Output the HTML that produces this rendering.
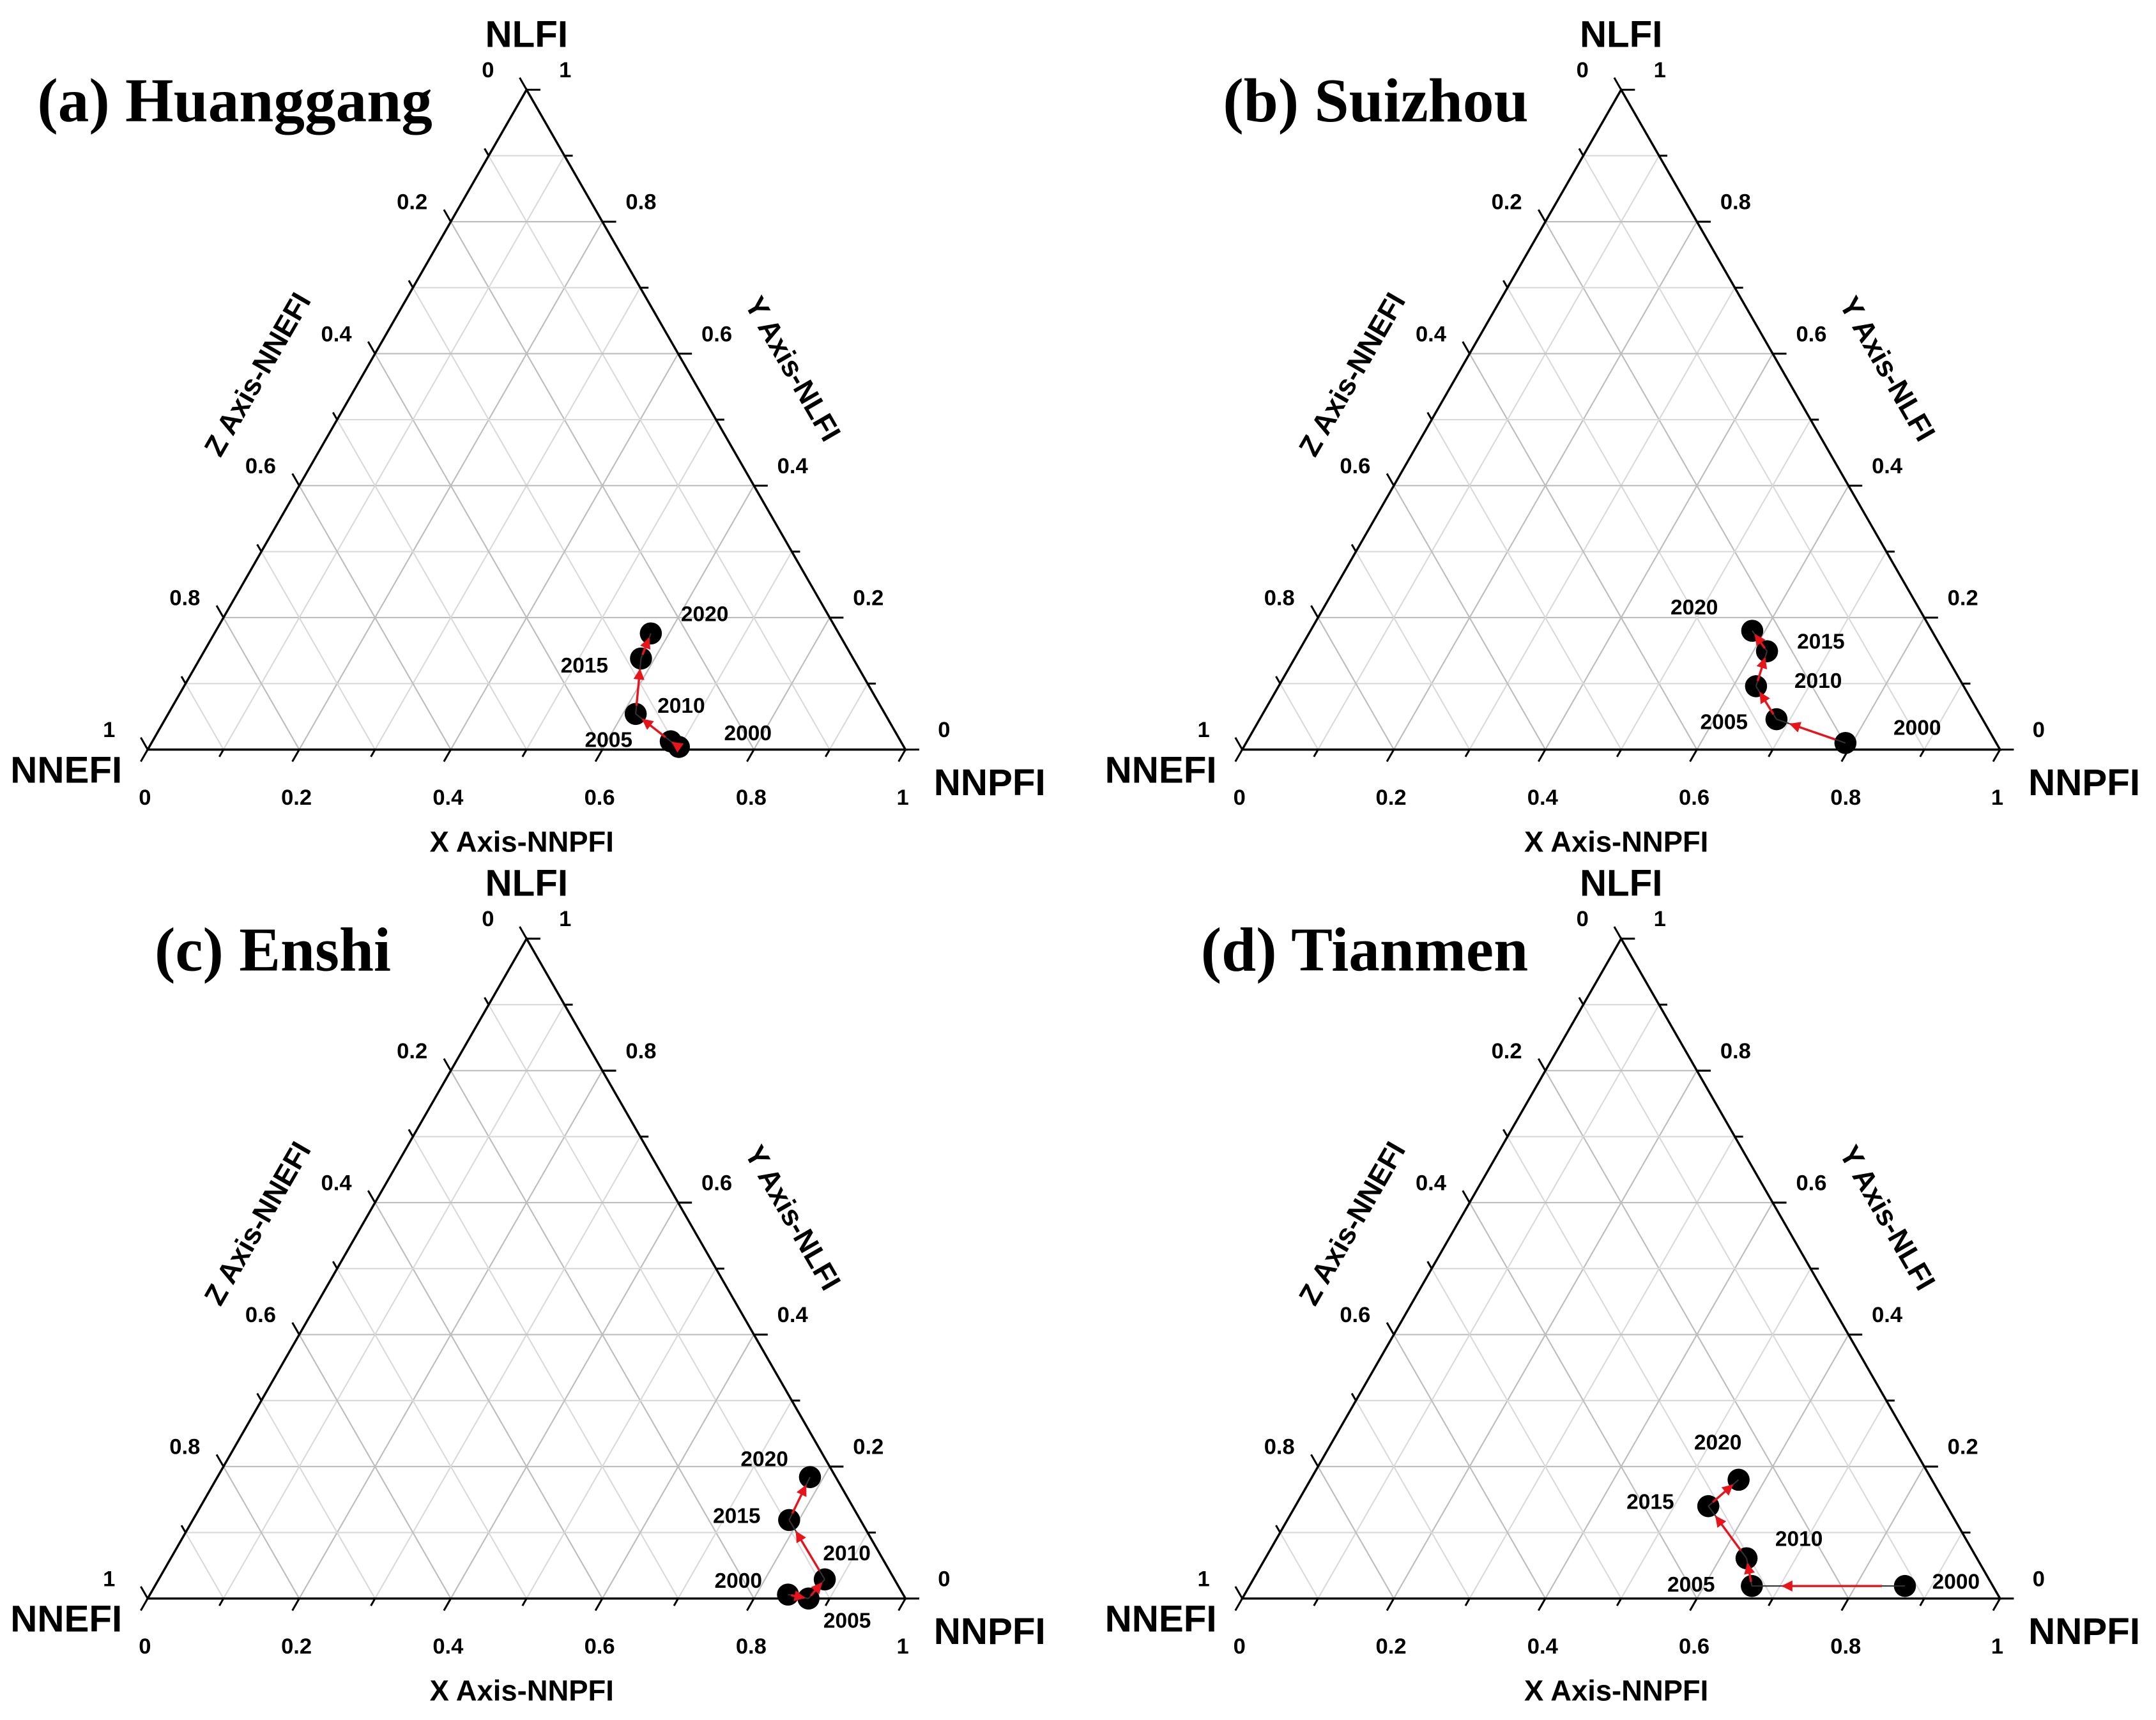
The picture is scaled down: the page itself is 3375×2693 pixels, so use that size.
<!DOCTYPE html>
<html><head><meta charset="utf-8"><style>
html,body{margin:0;padding:0;background:#fff;}
svg{display:block;}
text{font-family:"Liberation Sans",sans-serif;font-weight:bold;fill:#000;}
</style></head><body>
<svg id="chart" width="3375" height="2693" viewBox="0 0 1562 1246" preserveAspectRatio="none" xmlns="http://www.w3.org/2000/svg">
<defs><marker id="arr" viewBox="0 0 10 10" refX="9" refY="5" markerWidth="5" markerHeight="5" orient="auto"><path d="M0,0 L10,5 L0,10 z" fill="#e8141b"/></marker></defs>
</svg>
<script>
const panelTitles = ["(a) Huanggang","(b) Suizhou","(c) Enshi","(d) Tianmen"];
const years = ["2000","2005","2010","2015","2020"];
const nnpfiA = [0.699,0.684,0.617,0.582,0.576];
const nlfiA  = [0.004,0.0125,0.054,0.138,0.176];
const nnpfiB = [0.791,0.682,0.630,0.618,0.583];
const nlfiB  = [0.010,0.046,0.096,0.149,0.180];
const nnpfiC = [0.842,0.872,0.879,0.787,0.782];
const nlfiC  = [0.006,0.000,0.029,0.119,0.184];
const nnpfiD = [0.865,0.663,0.635,0.545,0.565];
const nlfiD  = [0.019,0.019,0.061,0.140,0.180];
const tickLabels = ["0","0.2","0.4","0.6","0.8","1"];

const svg = document.getElementById('chart');
const NS = 'http://www.w3.org/2000/svg';
function mk(tag, attrs, parent){const e=document.createElementNS(NS,tag);for(const k in attrs)e.setAttribute(k,attrs[k]);(parent||svg).appendChild(e);return e;}

const panels = [
 {ox:107,by:543,tx:27,ty:73,xs:nnpfiA,ys:nlfiA,lab:[[50,-9],[-45,0],[33,-5],[-41,6],[39,-13]]},
 {ox:900,by:543,tx:886,ty:73,xs:nnpfiB,ys:nlfiB,lab:[[52,-10],[-38,3],[45,-3],[39,-6],[-42,-16]]},
 {ox:107,by:1158,tx:112,ty:688,xs:nnpfiC,ys:nlfiC,lab:[[-36,-9],[28,17],[16,-18],[-38,-2],[-33,-12]]},
 {ox:900,by:1158,tx:870,ty:688,xs:nnpfiD,ys:nlfiD,lab:[[37,-2],[-44,0],[38,-13],[-42,-2],[-15,-26]]}
];
const W=549,H=478;

panels.forEach((p,pi)=>{
 const g=mk('g',{});
 
 
 const P=(X,Y)=>[p.ox+W*(X+Y/2), p.by-H*Y];
 for(let i=1;i<10;i++){
  const k=i/10, col=(i%2==0)?'#bdbdbd':'#dadada';
  let a=P(0,k),b=P(1-k,k);
  const l1=mk('line',{x1:a[0],y1:a[1],x2:b[0],y2:b[1],stroke:col,'stroke-width':1},g);
   
  a=P(k,0);b=P(k,1-k);
  const l2=mk('line',{x1:a[0],y1:a[1],x2:b[0],y2:b[1],stroke:col,'stroke-width':1},g);
   
  a=P(0,1-k);b=P(1-k,0);
  const l3=mk('line',{x1:a[0],y1:a[1],x2:b[0],y2:b[1],stroke:col,'stroke-width':1},g);
   
 }
 const A=P(0,0),B=P(1,0),C=P(0,1);
 const tri=mk('polygon',{points:`${A} ${B} ${C}`,fill:'none',stroke:'#000','stroke-width':1.6},g);
  
 for(let i=0;i<=10;i++){
  const k=i/10, len=(i%2==0)?10:6;
  let a=P(k,0);
  const t1=mk('line',{x1:a[0],y1:a[1],x2:a[0]-len*0.5,y2:a[1]+len*0.87,stroke:'#000','stroke-width':1.4},g);
   
  a=P(1-k,k);
  const t2=mk('line',{x1:a[0],y1:a[1],x2:a[0]+len,y2:a[1],stroke:'#000','stroke-width':1.4},g);
   
  a=P(0,1-k);
  const t3=mk('line',{x1:a[0],y1:a[1],x2:a[0]-len*0.5,y2:a[1]-len*0.87,stroke:'#000','stroke-width':1.4},g);
   
 }
 tickLabels.forEach((s,j)=>{
  const v=parseFloat(s);
  let a=P(v,0);
  const x1=mk('text',{x:a[0]-2,y:a[1]+40,'font-size':16,'text-anchor':'middle'},g); x1.textContent=s;
   
  a=P(1-v,v);
  const y1=mk('text',{x:a[0]+28,y:a[1]-9,'font-size':16,'text-anchor':'middle'},g); y1.textContent=s;
   
  a=P(0,1-v);
  const z1=mk('text',{x:a[0]-28,y:a[1]-9,'font-size':16,'text-anchor':'middle'},g); z1.textContent=s;
   
 });
 const v1=mk('text',{x:C[0],y:C[1]-31,'font-size':27,'text-anchor':'middle'},g); v1.textContent='NLFI';
  
 const v2=mk('text',{x:A[0]-59,y:A[1]+24,'font-size':27,'text-anchor':'middle'},g); v2.textContent='NNEFI';
  
 const v3=mk('text',{x:B[0]+61,y:B[1]+33,'font-size':27,'text-anchor':'middle'},g); v3.textContent='NNPFI';
  
 const ax=mk('text',{x:p.ox+271,y:p.by+74,'font-size':21,'text-anchor':'middle'},g); ax.textContent='X Axis-NNPFI';
  
 const ay=mk('text',{x:0,y:0,'font-size':21,'text-anchor':'middle','dominant-baseline':'middle',transform:`translate(${p.ox+466},${p.by-275}) rotate(60)`},g); ay.textContent='Y Axis-NLFI';
  
 const az=mk('text',{x:0,y:0,'font-size':21,'text-anchor':'middle','dominant-baseline':'middle',transform:`translate(${p.ox+81},${p.by-271}) rotate(-60)`},g); az.textContent='Z Axis-NNEFI';
  
 const tt=mk('text',{x:p.tx,y:p.ty+15,'font-size':45,style:'font-family:"Liberation Serif",serif;font-weight:bold'},g); tt.textContent=panelTitles[pi];
  
 const pts=p.xs.map((x,i)=>P(x,p.ys[i]));
 pts.forEach((q,i)=>{
  const c=mk('circle',{cx:q[0],cy:q[1],r:8,fill:'#000'},g);
   
 });
 for(let i=0;i<pts.length-1;i++){
  const a=pts[i],b=pts[i+1];
  const ln=mk('line',{x1:a[0],y1:a[1],x2:b[0],y2:b[1],stroke:'#333','stroke-width':1},g);
   
  const s=0.15,e=0.8;
  const ar=mk('line',{x1:a[0]+(b[0]-a[0])*s,y1:a[1]+(b[1]-a[1])*s,x2:a[0]+(b[0]-a[0])*e,y2:a[1]+(b[1]-a[1])*e,stroke:'#e8141b','stroke-width':1.6,'marker-end':'url(#arr)'},g);
   
 }
 pts.forEach((q,i)=>{
  const t=mk('text',{x:q[0]+p.lab[i][0],y:q[1]+p.lab[i][1],'font-size':15.5,'text-anchor':'middle','dominant-baseline':'middle'},g);
  t.textContent=years[i];
   
 });
});
</script>
</body></html>
